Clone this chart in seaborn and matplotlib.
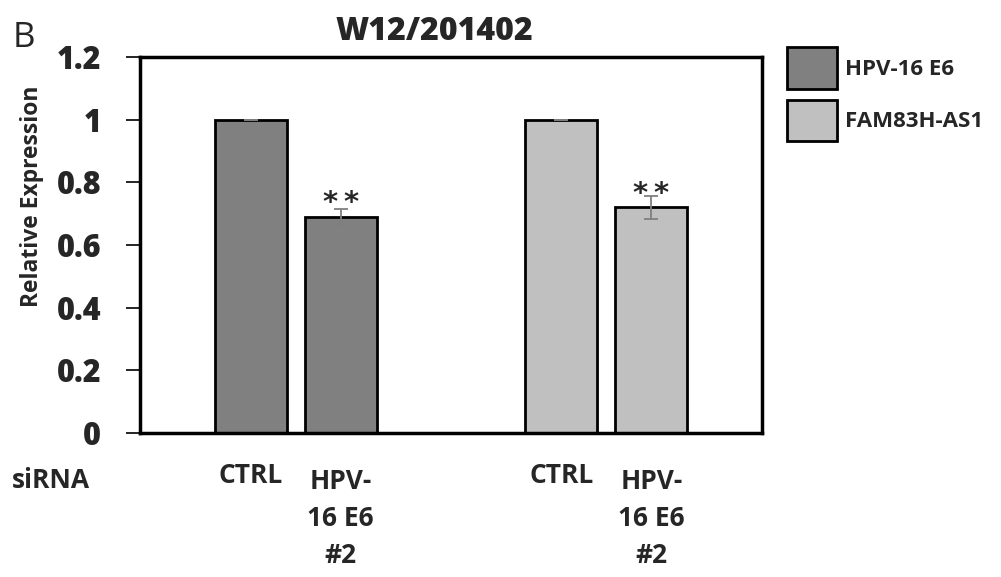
import numpy as np
import pandas as pd
import matplotlib
matplotlib.use("Agg")
import matplotlib.pyplot as plt
import matplotlib.transforms as mtransforms
import seaborn as sns

# ---- data ----
targets = ["HPV-16 E6", "FAM83H-AS1"]
sirna_labels = ["CTRL", "HPV-\n16 E6\n#2"]
hpv_e6_values = [1.0, 0.69]
hpv_e6_errors = [0.0, 0.026]
fam83h_values = [1.0, 0.72]
fam83h_errors = [0.0, 0.036]
significance = ["", "*\u2009*"]
yticks = [0, 0.2, 0.4, 0.6, 0.8, 1.0, 1.2]
ytick_labels = ["0", "0.2", "0.4", "0.6", "0.8", "1", "1.2"]

# ---- styling ----
sns.set_theme(style="white")
plt.rcParams["font.family"] = ["Open Sans", "DejaVu Sans"]
palette = {"HPV-16 E6": "#808080", "FAM83H-AS1": "#c0c0c0"}
GROUP_STEP = 3.45  # distance between the two target groups, in bar slots

rows = []
for g, (vals, errs) in enumerate([(hpv_e6_values, hpv_e6_errors),
                                  (fam83h_values, fam83h_errors)]):
    for i, (v, e) in enumerate(zip(vals, errs)):
        rows.append({"target": targets[g], "pos": g * GROUP_STEP + i,
                     "value": v, "err": e, "label": sirna_labels[i],
                     "sig": significance[i]})
df = pd.DataFrame(rows)

fig = plt.figure(figsize=(10.01, 5.77), dpi=100)
ax = fig.add_axes([140 / 1001, 1 - 433 / 577, 622 / 1001, 376 / 577])

sns.barplot(data=df, x="pos", y="value", hue="target", palette=palette,
            native_scale=True, dodge=False, width=0.8, errorbar=None,
            edgecolor="black", linewidth=2, saturation=1, ax=ax)

ax.errorbar(df["pos"], df["value"], yerr=df["err"], fmt="none",
            ecolor="#7f7f7f", elinewidth=1.3, capsize=5, capthick=1.3, zorder=5)

# significance marks just above each knock-down bar
for _, r in df.iterrows():
    if r["sig"]:
        ax.text(r["pos"], r["value"] + 0.043, r["sig"],
                ha="center", va="center", fontsize=21, fontweight="bold",
                family="DejaVu Sans")

ax.set_xlim(-1.228, GROUP_STEP + 1 + 1.228)
ax.set_ylim(0, 1.2)
ax.set_yticks(yticks)
ax.set_yticklabels(ytick_labels, fontsize=22, fontweight="heavy")
ax.set_xticks(df["pos"])
ax.set_xticklabels(df["label"], fontsize=19, fontweight="bold",
                   linespacing=1.49, va="top")
ax.tick_params(axis="x", length=0, pad=25)
ax.tick_params(axis="y", length=10, width=1.2, color="black", pad=18,
               direction="out", left=True)
# single-line labels sit a little higher than the stacked ones
shift_up = mtransforms.ScaledTranslation(0, 6 / 100, fig.dpi_scale_trans)
for lbl in ax.get_xticklabels():
    if "\n" not in lbl.get_text():
        lbl.set_transform(lbl.get_transform() + shift_up)
for s in ax.spines.values():
    s.set_color("black")
    s.set_linewidth(2.5)
ax.set_xlabel("")
ax.set_ylabel("Relative Expression", fontsize=16.5, fontweight="bold",
              labelpad=9, y=0.629)

ax.set_title("W12/201402", fontsize=23, fontweight="heavy", x=0.473, pad=12)

handles, labels = ax.get_legend_handles_labels()
ax.get_legend().remove()
fig.legend(handles, labels, loc="upper left",
           bbox_to_anchor=(787 / 1001, 1 - 47 / 577),
           frameon=False, prop={"weight": "bold", "size": 16},
           handlelength=2.25, handleheight=2.5, labelspacing=0.5,
           handletextpad=0.35, borderpad=0, borderaxespad=0)

fig.text(12 / 1001, 1 - 481 / 577, "siRNA", fontsize=19, fontweight="bold", va="center")
fig.text(13 / 1001, 1 - 38 / 577, "B", fontsize=25, va="center")

fig.savefig("out.png", dpi=100)
